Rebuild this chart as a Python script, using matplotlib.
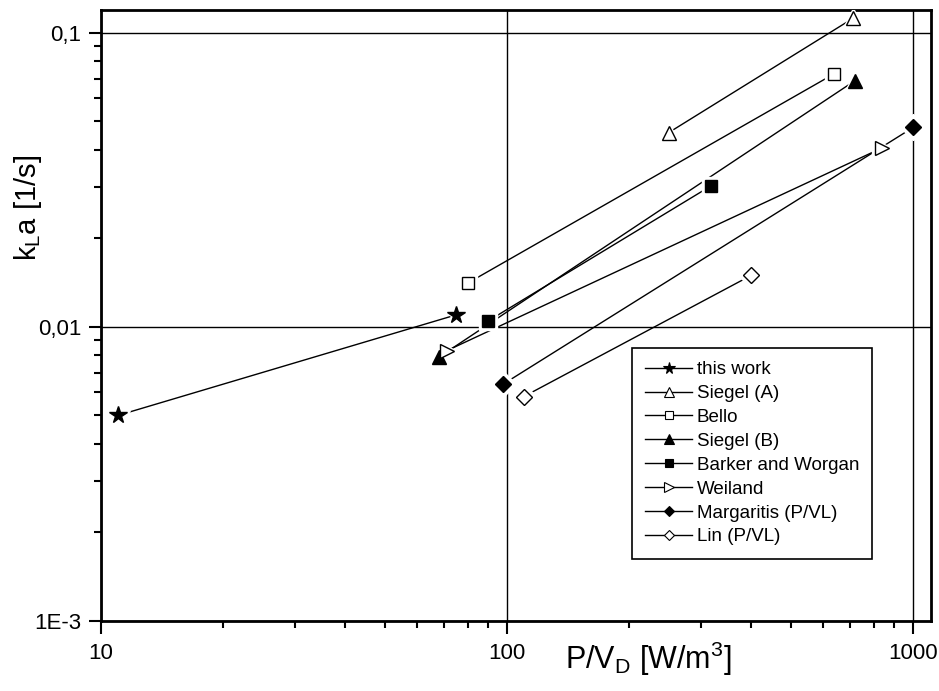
import matplotlib
matplotlib.use("Agg")
import matplotlib.pyplot as plt
from matplotlib.lines import Line2D
from matplotlib.ticker import FixedLocator, FixedFormatter, LogLocator, NullFormatter

plt.rcParams['font.family'] = ['Liberation Sans', 'DejaVu Sans']
plt.rcParams['mathtext.fontset'] = 'custom'
plt.rcParams['mathtext.rm'] = 'Liberation Sans'
plt.rcParams['mathtext.it'] = 'Liberation Sans'

# ---- data ----
series_names = ['this work', 'Siegel (A)', 'Bello', 'Siegel (B)',
                'Barker and Worgan', 'Weiland', 'Margaritis (P/VL)', 'Lin (P/VL)']
this_work_x = [11, 75]
this_work_y = [0.0050, 0.0110]
siegel_a_x = [250, 710]
siegel_a_y = [0.0458, 0.112]
bello_x = [80, 640]
bello_y = [0.0141, 0.0727]
siegel_b_x = [68, 720]
siegel_b_y = [0.0079, 0.0689]
barker_x = [90, 318]
barker_y = [0.0105, 0.0302]
weiland_x = [71, 840]
weiland_y = [0.0083, 0.0407]
margaritis_x = [98, 1000]
margaritis_y = [0.0064, 0.0477]
lin_x = [110, 400]
lin_y = [0.0058, 0.0150]

xticks = [10, 100, 1000]
xtick_labels = ['10', '100', '1000']
yticks = [1e-3, 1e-2, 1e-1]
ytick_labels = ['1E-3', '0,01', '0,1']

# ---- styles ----
styles = [
    ('*', 'black', 13),
    ('^', 'white', 10),
    ('s', 'white', 8),
    ('^', 'black', 10),
    ('s', 'black', 8),
    ('>', 'white', 10),
    ('D', 'black', 8.5),
    ('D', 'white', 8.5),
]
data = [(this_work_x, this_work_y), (siegel_a_x, siegel_a_y), (bello_x, bello_y),
        (siegel_b_x, siegel_b_y), (barker_x, barker_y), (weiland_x, weiland_y),
        (margaritis_x, margaritis_y), (lin_x, lin_y)]

fig = plt.figure(figsize=(9.39, 6.91), dpi=100)
ax = fig.add_axes([101/939, 1-621/691, 830/939, 611/691])
ax.set_xscale('log')
ax.set_yscale('log')

handles = []
for (xs, ys), (m, fc, ms), name in zip(data, styles, series_names):
    ax.plot(xs, ys, '-', color='black', lw=1.0, zorder=3)
    ax.plot(xs, ys, ls='none', marker=m, ms=ms + 5, mfc='white', mec='white',
            mew=1, zorder=4)
    ax.plot(xs, ys, ls='none', marker=m, ms=ms, mfc=fc, mec='black',
            mew=1.0, zorder=5)
    handles.append(Line2D([], [], color='black', lw=1.0, marker=m, ms=ms * 0.65,
                          mfc=fc, mec='black', mew=0.8, label=name))

ax.set_xlim(10, 1107)
ax.set_ylim(1e-3, 0.1197)

ax.xaxis.set_major_locator(FixedLocator(xticks))
ax.xaxis.set_major_formatter(FixedFormatter(xtick_labels))
ax.yaxis.set_major_locator(FixedLocator(yticks))
ax.yaxis.set_major_formatter(FixedFormatter(ytick_labels))
ax.xaxis.set_minor_locator(LogLocator(base=10, subs=range(2, 10)))
ax.yaxis.set_minor_locator(LogLocator(base=10, subs=range(2, 10)))
ax.xaxis.set_minor_formatter(NullFormatter())
ax.yaxis.set_minor_formatter(NullFormatter())

ax.tick_params(which='major', direction='out', length=9, width=1.5,
               labelsize=16, top=False, right=False)
ax.tick_params(axis='x', which='major', pad=7)
ax.tick_params(axis='y', which='major', pad=5)
ax.tick_params(which='minor', direction='out', length=5, width=1.5,
               top=False, right=False)

for s in ax.spines.values():
    s.set_linewidth(2.0)

ax.grid(True, which='major', color='black', lw=1.0, zorder=1)

ax.set_xlabel(r'P/V$_\mathregular{D}$ [W/m$^\mathregular{3}$]', fontsize=22)
ax.set_ylabel(r'k$_\mathregular{L}$a [1/s]', fontsize=21)
ax.xaxis.set_label_coords(0.66, -0.03)
ax.yaxis.set_label_coords(-0.069, 0.676)

leg = ax.legend(handles=handles, loc='upper left',
                bbox_to_anchor=(632/939, 1-348/691), bbox_transform=fig.transFigure,
                fontsize=13.5, frameon=True, fancybox=False, framealpha=1,
                edgecolor='black', handlelength=2.5, handletextpad=0.25,
                labelspacing=0.36, borderpad=0.7, borderaxespad=0)
leg.get_frame().set_linewidth(1.2)
leg.set_zorder(10)

fig.savefig('out.png', dpi=100)
